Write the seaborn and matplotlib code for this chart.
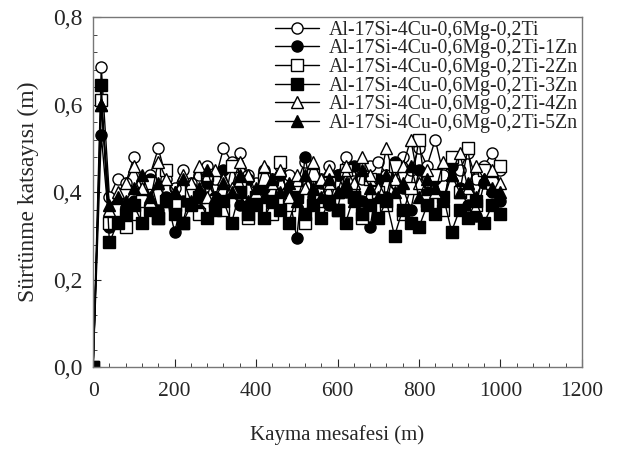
import numpy as np
import seaborn as sns
import matplotlib.pyplot as plt
from matplotlib.ticker import MultipleLocator, FuncFormatter

sns.set_style("ticks")
plt.rcParams['font.family'] = ['Liberation Serif', 'DejaVu Serif']

distance = list(range(0, 1001, 20))

labels = [
    "Al-17Si-4Cu-0,6Mg-0,2Ti",
    "Al-17Si-4Cu-0,6Mg-0,2Ti-1Zn",
    "Al-17Si-4Cu-0,6Mg-0,2Ti-2Zn",
    "Al-17Si-4Cu-0,6Mg-0,2Ti-3Zn",
    "Al-17Si-4Cu-0,6Mg-0,2Ti-4Zn",
    "Al-17Si-4Cu-0,6Mg-0,2Ti-5Zn",
]

ti_0zn = [0.00, 0.685, 0.39, 0.43, 0.42, 0.48, 0.42, 0.44, 0.50, 0.43,
          0.41, 0.45, 0.42, 0.44, 0.46, 0.43, 0.50, 0.47, 0.49, 0.44,
          0.42, 0.45, 0.43, 0.46, 0.44, 0.42, 0.47, 0.45, 0.43, 0.46,
          0.44, 0.48, 0.45, 0.43, 0.46, 0.47, 0.44, 0.42, 0.48, 0.45,
          0.50, 0.46, 0.52, 0.44, 0.47, 0.45, 0.49, 0.43, 0.46, 0.49,
          0.45]
ti_1zn = [0.00, 0.53, 0.32, 0.37, 0.35, 0.38, 0.40, 0.43, 0.36, 0.39,
          0.31, 0.38, 0.41, 0.36, 0.42, 0.39, 0.45, 0.40, 0.37, 0.43,
          0.38, 0.41, 0.36, 0.44, 0.40, 0.295, 0.48, 0.39, 0.42, 0.37,
          0.44, 0.40, 0.46, 0.38, 0.32, 0.43, 0.39, 0.47, 0.41, 0.36,
          0.45, 0.40, 0.43, 0.38, 0.46, 0.41, 0.37, 0.345, 0.42, 0.40,
          0.38]
ti_2zn = [0.00, 0.61, 0.33, 0.36, 0.32, 0.35, 0.38, 0.42, 0.34, 0.45,
          0.37, 0.33, 0.40, 0.35, 0.44, 0.38, 0.36, 0.46, 0.41, 0.34,
          0.39, 0.43, 0.35, 0.47, 0.37, 0.40, 0.33, 0.44, 0.38, 0.42,
          0.36, 0.45, 0.39, 0.34, 0.43, 0.40, 0.37, 0.46, 0.35, 0.41,
          0.52, 0.38, 0.44, 0.36, 0.48, 0.40, 0.50, 0.37, 0.45, 0.42,
          0.46]
ti_3zn = [0.00, 0.645, 0.285, 0.33, 0.35, 0.37, 0.33, 0.36, 0.34, 0.38,
          0.35, 0.33, 0.37, 0.39, 0.34, 0.36, 0.38, 0.33, 0.40, 0.35,
          0.37, 0.34, 0.38, 0.36, 0.33, 0.39, 0.35, 0.37, 0.34, 0.38,
          0.36, 0.33, 0.39, 0.35, 0.37, 0.34, 0.38, 0.30, 0.36, 0.33,
          0.32, 0.37, 0.35, 0.39, 0.31, 0.36, 0.34, 0.38, 0.33, 0.37,
          0.35]
ti_4zn = [0.00, 0.60, 0.36, 0.40, 0.42, 0.46, 0.41, 0.38, 0.47, 0.43,
          0.40, 0.44, 0.42, 0.46, 0.39, 0.45, 0.43, 0.41, 0.47, 0.44,
          0.40, 0.46, 0.42, 0.45, 0.39, 0.44, 0.41, 0.47, 0.43, 0.45,
          0.40, 0.46, 0.42, 0.48, 0.44, 0.41, 0.50, 0.43, 0.46, 0.52,
          0.42, 0.45, 0.40, 0.47, 0.44, 0.49, 0.41, 0.46, 0.43, 0.45,
          0.42]
ti_5zn = [0.00, 0.60, 0.37, 0.39, 0.38, 0.41, 0.44, 0.39, 0.42, 0.38,
          0.40, 0.43, 0.38, 0.41, 0.45, 0.39, 0.42, 0.40, 0.44, 0.38,
          0.41, 0.39, 0.43, 0.40, 0.42, 0.38, 0.44, 0.41, 0.39, 0.43,
          0.40, 0.42, 0.38, 0.45, 0.41, 0.39, 0.44, 0.40, 0.42, 0.46,
          0.39, 0.43, 0.41, 0.38, 0.44, 0.40, 0.42, 0.39, 0.43, 0.41,
          0.40]

series = [ti_0zn, ti_1zn, ti_2zn, ti_3zn, ti_4zn, ti_5zn]
markers = ["o", "o", "s", "s", "^", "^"]
faces = ["white", "black", "white", "black", "white", "black"]

fig = plt.figure(figsize=(6.25, 4.5), dpi=100)
ax = fig.add_axes([0.149, 0.184, 0.782, 0.778])

for vals, lab, m, fc in zip(series, labels, markers, faces):
    sns.lineplot(x=distance, y=vals, ax=ax, label=lab, color="black",
                 linewidth=1.0, marker=m, markersize=8,
                 markerfacecolor=fc, markeredgecolor="black",
                 markeredgewidth=1.0)

ax.set_xlim(0, 1200)
ax.set_ylim(0, 0.8)
ax.xaxis.set_major_locator(MultipleLocator(200))
ax.xaxis.set_minor_locator(MultipleLocator(40))
ax.yaxis.set_major_locator(MultipleLocator(0.2))
ax.yaxis.set_minor_locator(MultipleLocator(0.04))
ax.yaxis.set_major_formatter(FuncFormatter(lambda v, p: f"{v:.1f}".replace(".", ",")))
ax.tick_params(which="major", direction="in", length=6, top=False, right=False)
ax.tick_params(which="minor", direction="in", length=3, top=False, right=False)
ax.tick_params(axis="x", which="major", labelsize=15.5, pad=11)
ax.tick_params(axis="y", which="major", labelsize=17, pad=8)
for s in ax.spines.values():
    s.set_color("#777777")
    s.set_linewidth(1.0)

ax.set_xlabel("Kayma mesafesi (m)", fontsize=15, labelpad=17)
ax.set_ylabel("Sürtünme katsayısı (m)", fontsize=17, labelpad=10)

leg = ax.legend(loc="upper right", bbox_to_anchor=(1.01, 1.015), frameon=False,
                fontsize=14.3, handlelength=2.2, labelspacing=-0.02,
                borderaxespad=0.05, handletextpad=0.5)

fig.savefig("out.png", dpi=100)
